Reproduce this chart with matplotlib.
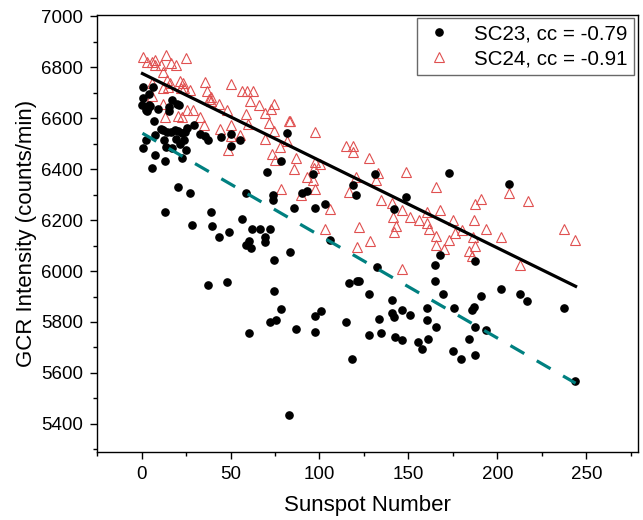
import matplotlib
matplotlib.use("Agg")
import matplotlib.pyplot as plt
import numpy as np
from matplotlib.ticker import MultipleLocator

plt.rcParams['font.family'] = ['Liberation Sans', 'DejaVu Sans']

# SC23 (black dots): sunspot number, GCR intensity
sc23_x = [0.5, 0.9, 0.9, 0.7, 2.7, 2.3, 4.1, 3.4, 4.8, 5.7, 6.6, 7.0, 7.3, 7.5, 9.5,
          11, 12, 12.7, 13.2, 13.4, 13.6, 14.5, 15.2, 15.5, 16.4, 17.3, 17.3, 18.6, 19.3, 20,
          20.5, 20.5, 21, 21.6, 22.5, 22.5, 23.9, 24.5, 24.8, 25.5, 27.3, 28.6, 29.3, 32.7, 35.7,
          37.3, 37.3, 38.9, 39.5, 43.4, 44.5, 48, 48.9, 50.5, 50.5, 55.5, 56.6, 58.9, 58.6, 60.2,
          60.2, 61.6, 62.3, 66.4, 69.5, 69.5, 70.5, 72.3, 72, 73.9, 73.9, 74.5, 74.3, 75.5, 78.2,
          78.2, 81.8, 82.7, 83.4, 85.7, 86.6, 90.2, 93.2, 96.6, 97.5, 97.5, 97.5, 100.7, 103.2, 105.7,
          115, 116.4, 118.4, 118.6, 120.7, 120.9, 122.5, 128, 128, 131.4, 132.5, 133.2, 134.8, 141, 141,
          141.8, 142, 142.7, 146.6, 146.6, 148.9, 150.7, 155.5, 157.5, 160.7, 160.7, 160.9, 165, 165, 165.5,
          168, 169.5, 172.7, 174.8, 175.9, 179.8, 184.3, 186, 186.8, 187.3, 187.3, 187.5, 191, 193.6, 202.3,
          206.4, 212.7, 216.8, 237.5, 243.6, 4.0, 3.0]
sc23_y = [6653, 6721, 6678, 6483, 6513, 6634, 6697, 6640, 6648, 6404, 6721, 6588, 6535, 6457, 6635,
          6558, 6555, 6513, 6432, 6232, 6487, 6545, 6645, 6627, 6545, 6671, 6482, 6555, 6519, 6656,
          6551, 6330, 6652, 6497, 6543, 6444, 6513, 6545, 6474, 6560, 6308, 6181, 6575, 6538, 6529,
          6513, 5944, 6232, 6178, 6132, 6526, 5958, 6153, 6490, 6539, 6516, 6206, 6308, 6104, 6117,
          5756, 6091, 6165, 6165, 6134, 6113, 6390, 6165, 5801, 6299, 6279, 6042, 5923, 5809, 6434,
          5851, 6543, 5436, 6075, 6248, 5773, 6308, 6314, 6380, 6247, 5822, 5762, 5845, 6264, 6123,
          5801, 5952, 5655, 6338, 6300, 5961, 5961, 5910, 5749, 6380, 6014, 5810, 5758, 5886, 5835,
          6243, 5818, 5743, 5729, 5847, 6292, 5827, 5720, 5694, 5856, 5809, 5735, 6025, 5961, 5781,
          6064, 5910, 6386, 5686, 5853, 5655, 5735, 5847, 5860, 5779, 5671, 6039, 5903, 5770, 5929,
          6342, 5908, 5882, 5856, 5570, 6650, 6630]

# SC24 (red open triangles)
sc24_x = [0.7, 3, 6.1, 7.5, 7.5, 11, 12, 14, 14.5, 16.4, 19.5, 24.8, 6.1, 5.9, 12.3,
          14.8, 16.1, 21.6, 23.2, 24, 22.3, 27.5, 13, 11.8, 20.5, 23, 25.5, 28.9, 32.7, 35.2,
          35.5, 36.8, 37.7, 39.1, 39.3, 43.6, 44.3, 48, 50.5, 50.5, 50, 48.6, 55.2, 56.4, 59.3,
          62.5, 58.9, 59.8, 61.1, 66.1, 69.5, 69.3, 71.6, 72.5, 74.3, 73.4, 74.5, 75.2, 77.7, 78.4,
          82.7, 83.6, 82, 85.7, 86.8, 89.8, 93.2, 96.4, 97, 97.5, 97.5, 97.7, 100.2, 103.2, 106.1,
          115, 116.6, 118.6, 119, 120.7, 121.1, 122.5, 127.7, 128.2, 131.6, 133, 134.8, 141, 141.6, 142,
          143.2, 146.6, 146.6, 148.9, 150.9, 155.7, 160.7, 160.7, 161.4, 165.5, 165.5, 165.5, 168, 169.8, 172.7,
          175.2, 176.1, 180, 184.1, 185.9, 187, 187.5, 186.4, 187.5, 191.1, 193.6, 202.3, 206.8, 212.7, 217,
          237.5, 243.6]
sc24_y = [6840, 6819, 6821, 6829, 6810, 6808, 6782, 6847, 6752, 6817, 6808, 6835, 6740, 6688, 6718,
          6721, 6738, 6747, 6740, 6717, 6718, 6710, 6604, 6656, 6609, 6604, 6632, 6632, 6604, 6575,
          6742, 6708, 6675, 6682, 6666, 6656, 6558, 6634, 6736, 6575, 6532, 6477, 6536, 6708, 6706,
          6706, 6617, 6578, 6669, 6651, 6621, 6519, 6581, 6636, 6656, 6461, 6549, 6435, 6487, 6323,
          6591, 6588, 6509, 6400, 6442, 6300, 6370, 6357, 6403, 6429, 6545, 6322, 6422, 6165, 6245,
          6490, 6309, 6468, 6490, 6370, 6095, 6173, 6442, 6119, 6357, 6383, 6279, 6269, 6214, 6152,
          6178, 6240, 6009, 6390, 6214, 6201, 6232, 6188, 6165, 6331, 6136, 6104, 6238, 6087, 6121,
          6201, 6149, 6160, 6078, 6061, 6201, 6097, 6132, 6264, 6282, 6165, 6132, 6305, 6022, 6275,
          6165, 6121]

# linear fits as drawn (intercept, slope) and x range
fit23 = (6543, -4.03)
fit24 = (6777, -3.43)
fit_x = np.array([0.5, 244])

fig = plt.figure(figsize=(6.43, 5.2), dpi=100)
ax = fig.add_axes([0.151, 0.131, 0.841, 0.84])

ax.plot(sc23_x, sc23_y, 'o', color='black', markersize=5.2, label='SC23, cc = -0.79', zorder=3)
ax.plot(sc24_x, sc24_y, '^', markerfacecolor='none', markeredgecolor='#e05050',
        markeredgewidth=0.8, markersize=6.5, label='SC24, cc = -0.91', zorder=2)

ax.plot(fit_x, fit24[0] + fit24[1] * fit_x, '-', color='black', lw=2.3, zorder=4)
ax.plot(fit_x, fit23[0] + fit23[1] * fit_x, '--', color='#008080', lw=2.3,
        dashes=(5, 4.5), zorder=4)

ax.set_xlim(-25, 279)
ax.set_ylim(5290, 7005)
ax.xaxis.set_major_locator(MultipleLocator(50))
ax.xaxis.set_minor_locator(MultipleLocator(25))
ax.yaxis.set_major_locator(MultipleLocator(200))
ax.yaxis.set_minor_locator(MultipleLocator(100))
ax.set_xticks([0, 50, 100, 150, 200, 250])
ax.tick_params(which='major', direction='out', length=5, width=1, labelsize=13.5, pad=5)
ax.tick_params(which='minor', direction='out', length=3, width=1)
for s in ax.spines.values():
    s.set_linewidth(1)

ax.set_xlabel('Sunspot Number', fontsize=16, labelpad=9)
ax.set_ylabel('GCR Intensity (counts/min)', fontsize=16, labelpad=3)

leg = ax.legend(loc='upper right', fontsize=14.8, frameon=True, fancybox=False,
                edgecolor='#444444', handletextpad=0.9, handlelength=1.6,
                borderpad=0.3, borderaxespad=0, labelspacing=0.3,
                bbox_to_anchor=(0.993, 0.993))
leg.get_frame().set_linewidth(1)

fig.savefig('out.png', dpi=100)
